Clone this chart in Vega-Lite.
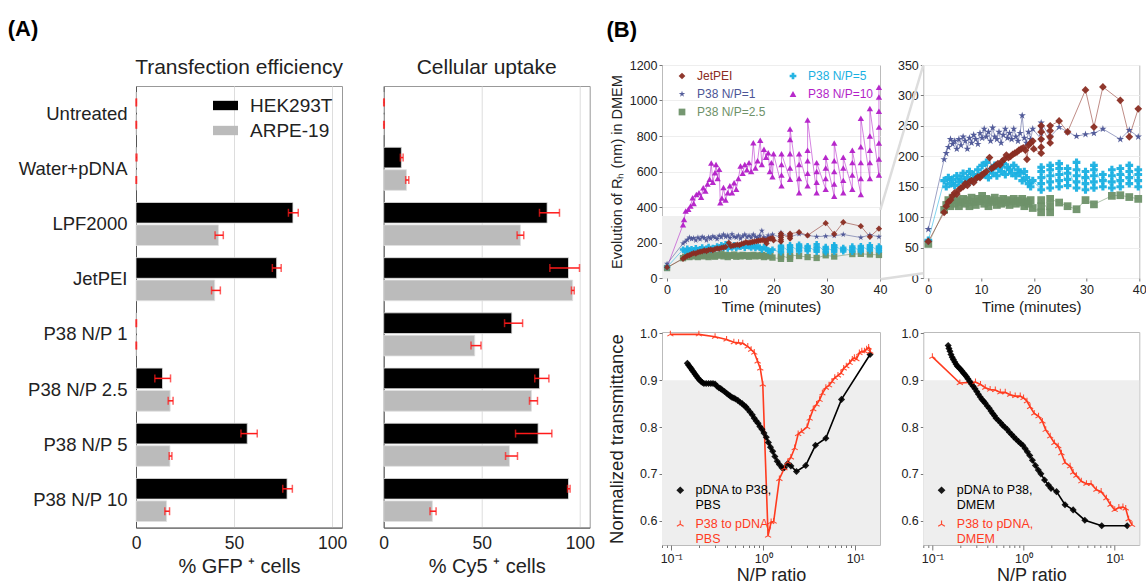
{
"$schema": "https://vega.github.io/schema/vega-lite/v6.json",
"padding": {"left": 7, "top": 17, "right": 0, "bottom": 0},
"background": "white",
"config": {
  "font": "Liberation Sans",
  "view": {"stroke": "#999999"},
  "axis": {"labelColor": "#222222", "titleColor": "#222222", "titleFontWeight": "normal", "domainColor": "#555555", "tickColor": "#777777", "labelOverlap": false, "labelBound": false},
  "axisQuantitative": {"labelOverlap": false},
  "title": {"fontWeight": "normal", "color": "#222222"}
},
"datasets": {
  "tf": [
    {"c":"Untreated","l":"HEK293T","v":0,"lo":0,"hi":0.3},
    {"c":"Untreated","l":"ARPE-19","v":0,"lo":0,"hi":0.3},
    {"c":"Water+pDNA","l":"HEK293T","v":0,"lo":0,"hi":0.5},
    {"c":"Water+pDNA","l":"ARPE-19","v":0,"lo":0,"hi":0.3},
    {"c":"LPF2000","l":"HEK293T","v":80,"lo":77.7,"hi":82.7},
    {"c":"LPF2000","l":"ARPE-19","v":42,"lo":40.3,"hi":44.5},
    {"c":"JetPEI","l":"HEK293T","v":71.7,"lo":69.5,"hi":74},
    {"c":"JetPEI","l":"ARPE-19","v":40.1,"lo":38.5,"hi":43},
    {"c":"P38 N/P 1","l":"HEK293T","v":0,"lo":0,"hi":0.3},
    {"c":"P38 N/P 1","l":"ARPE-19","v":0,"lo":0,"hi":0.3},
    {"c":"P38 N/P 2.5","l":"HEK293T","v":13.5,"lo":9.6,"hi":17.6},
    {"c":"P38 N/P 2.5","l":"ARPE-19","v":17.4,"lo":16.4,"hi":18.9},
    {"c":"P38 N/P 5","l":"HEK293T","v":56.7,"lo":53.5,"hi":61.8},
    {"c":"P38 N/P 5","l":"ARPE-19","v":17.3,"lo":16.9,"hi":18.3},
    {"c":"P38 N/P 10","l":"HEK293T","v":77,"lo":74.8,"hi":79.7},
    {"c":"P38 N/P 10","l":"ARPE-19","v":15.6,"lo":14.7,"hi":17.1}
  ],
  "cu": [
    {"c":"Untreated","l":"HEK293T","v":0,"lo":0,"hi":0.3},
    {"c":"Untreated","l":"ARPE-19","v":0,"lo":0,"hi":0.3},
    {"c":"Water+pDNA","l":"HEK293T","v":9,"lo":8.5,"hi":9.9},
    {"c":"Water+pDNA","l":"ARPE-19","v":11.6,"lo":11.2,"hi":12.8},
    {"c":"LPF2000","l":"HEK293T","v":83.3,"lo":79.4,"hi":89.6},
    {"c":"LPF2000","l":"ARPE-19","v":69.7,"lo":68,"hi":71.4},
    {"c":"JetPEI","l":"HEK293T","v":94.2,"lo":84.7,"hi":99.8},
    {"c":"JetPEI","l":"ARPE-19","v":96.3,"lo":95.7,"hi":97.1},
    {"c":"P38 N/P 1","l":"HEK293T","v":65.3,"lo":61.6,"hi":70.8},
    {"c":"P38 N/P 1","l":"ARPE-19","v":46.4,"lo":44.5,"hi":49.6},
    {"c":"P38 N/P 2.5","l":"HEK293T","v":79.4,"lo":77,"hi":84.2},
    {"c":"P38 N/P 2.5","l":"ARPE-19","v":75.3,"lo":74.3,"hi":78.4},
    {"c":"P38 N/P 5","l":"HEK293T","v":78.7,"lo":67.2,"hi":85.7},
    {"c":"P38 N/P 5","l":"ARPE-19","v":64.1,"lo":62.1,"hi":68.2},
    {"c":"P38 N/P 10","l":"HEK293T","v":94.2,"lo":93.7,"hi":95},
    {"c":"P38 N/P 10","l":"ARPE-19","v":24.8,"lo":23.6,"hi":26.7}
  ],
  "ts": [
    {"s":"P38 N/P=10",
     "t":[0,3,3.2,3.5,4,4.4,4.8,5,5.5,6,6.4,6.8,7.2,7.6,8,8.3,8.6,9,9.2,9.5,9.8,10,10.3,10.6,11,11.4,11.8,12.2,12.6,13,13.4,13.8,14.2,14.6,15,15.4,15.8,16.2,16.6,17,17.5,17.8,18.2,18.6,19,19.3,19.6,19.8,20,21.5,21.5,21.5,21.5,23.1,23.1,23.1,23.1,23.1,24.8,24.8,24.8,24.8,26.4,26.4,26.4,26.4,26.4,28.1,28.1,28.1,28.1,29.8,29.8,29.8,29.8,31.4,31.4,31.4,31.4,31.4,33.1,33.1,33.1,33.1,34.8,34.8,34.8,34.8,36.4,36.4,36.4,36.4,36.4,38.1,38.1,38.1,38.1,38.1,39.8,39.8,39.8,39.8,39.8,39.8,39.8],
     "r":[60,300,330,377,387,405,452,420,470,480,455,508,490,530,556,648,540,593,640,560,612,424,450,510,440,480,520,480,537,500,560,631,590,640,610,650,600,762,620,660,776,640,725,680,706,600,650,570,700,520,580,640,700,556,620,700,780,840,480,560,640,700,520,590,660,720,890,480,540,600,650,500,560,620,680,460,530,600,660,760,480,550,620,680,500,580,650,720,470,560,650,740,900,560,650,720,800,955,580,670,760,850,940,1020,1075]},
    {"s":"P38 N/P=2.5",
     "t":[0,3,3.4,3.8,4.2,4.6,5,5.4,5.8,6.2,6.6,7,7.4,7.8,8.2,8.6,9,9.4,9.8,10.2,10.6,11,11.4,11.8,12.2,12.6,13,13.4,13.8,14.2,14.6,15,15.4,15.8,16.2,16.6,17,17.4,17.8,18.2,18.6,19,19.4,19.8,21.4,21.4,21.4,23.1,23.1,23.1,24.8,26.4,28.1,29.8,31.4,34.8,36.4,38.1,39.8],
     "r":[56,112,120,128,118,132,122,128,118,125,130,122,128,118,132,125,120,130,126,135,122,130,118,128,125,132,120,127,122,130,124,128,120,126,130,122,127,124,130,118,126,122,128,115,108,118,128,108,118,130,124,118,113,128,121,135,136,133,130]},
    {"s":"P38 N/P=5",
     "t":[0,3,3.4,3.8,4.2,4.6,5,5.4,5.8,6.2,6.6,7,7.4,7.8,8.2,8.6,9,9.4,9.8,10.2,10.6,11,11.4,11.8,12.2,12.6,13,13.4,13.8,14.2,14.6,15,15.4,15.8,16.2,16.6,17,17.4,17.8,18.2,18.6,19,19.4,19.8,21.4,21.4,21.4,21.4,21.4,23.1,23.1,23.1,23.1,23.1,24.8,24.8,24.8,24.8,24.8,26.4,26.4,26.4,26.4,28.1,28.1,28.1,28.1,28.1,29.8,29.8,29.8,29.8,31.4,31.4,31.4,31.4,31.4,33.1,33.1,33.1,34.8,34.8,34.8,34.8,36.4,36.4,36.4,36.4,38.1,38.1,38.1,38.1,39.8,39.8,39.8,39.8],
     "r":[62,160,150,165,155,162,152,168,158,163,172,157,165,175,160,170,165,178,168,185,170,190,165,178,172,185,168,180,175,188,170,182,178,172,185,168,178,172,160,175,165,155,150,160,145,155,165,175,182,148,158,168,178,185,150,160,170,180,188,152,162,172,180,148,158,168,178,190,145,155,165,175,148,158,168,178,185,150,160,170,148,158,168,178,150,160,170,180,155,165,175,185,150,160,170,178]},
    {"s":"P38 N/P=1",
     "t":[0,3,3.4,3.8,4.2,4.6,5,5.4,5.8,6.2,6.6,7,7.4,7.8,8.2,8.6,9,9.4,9.8,10.2,10.6,11,11.4,11.8,12.2,12.6,13,13.4,13.8,14.2,14.6,15,15.4,15.8,16.2,16.6,17,17.4,17.8,18.2,18.6,19,19.4,19.8,21.4,21.4,21.4,21.4,23.1,24.8,26.4,28.1,29.8,31.4,33.1,36.4,38.1,39.8],
     "r":[80,195,205,215,228,220,225,212,228,218,232,225,212,230,222,235,228,220,238,230,245,232,240,225,247,232,228,240,222,235,245,230,238,228,245,232,225,238,267,230,222,240,228,245,228,238,248,255,232,248,240,233,236,238,245,228,243,232]},
    {"s":"JetPEI",
     "t":[0,3,3.4,3.8,4.2,4.6,5,5.4,5.8,6.2,6.6,7,7.4,7.8,8.2,8.6,9,9.4,9.8,10.2,10.6,11,11.6,12,12.4,12.8,13.2,13.6,14,14.4,14.8,15.2,15.6,16,16.4,16.8,17.2,17.6,18,18.4,18.7,19,19.4,19.8,20,21.4,21.4,21.4,21.4,21.4,23.1,23.1,23.1,23.1,24.8,26.4,29.8,31.4,33.1,36.4,38.1,39.8],
     "r":[60,108,118,125,128,135,140,138,145,148,150,155,152,158,160,157,163,166,165,170,172,175,198,180,182,185,188,186,192,195,202,198,200,203,205,207,210,212,214,210,195,218,222,225,212,205,215,228,240,250,222,232,242,250,258,240,309,248,314,292,232,278]}
  ],
  "np1": [
    {"s":"pDNA to P38, PBS",
     "x":[0.150,0.155,0.160,0.165,0.170,0.176,0.182,0.188,0.195,0.202,0.210,0.218,0.227,0.24,0.255,0.27,0.285,0.30,0.315,0.33,0.345,0.36,0.38,0.40,0.42,0.44,0.46,0.48,0.50,0.53,0.56,0.59,0.62,0.65,0.68,0.72,0.76,0.80,0.84,0.88,0.92,0.97,1.02,1.08,1.14,1.20,1.27,1.34,1.42,1.50,1.60,1.70,1.85,2.0,2.3,2.9,3.7,4.8,7.1,14.5],
     "y":[0.936,0.932,0.928,0.925,0.921,0.917,0.913,0.909,0.905,0.901,0.898,0.895,0.893,0.893,0.893,0.893,0.893,0.892,0.887,0.884,0.882,0.879,0.876,0.872,0.869,0.866,0.863,0.862,0.860,0.857,0.853,0.850,0.846,0.843,0.838,0.832,0.826,0.819,0.813,0.808,0.801,0.795,0.787,0.778,0.767,0.757,0.748,0.737,0.727,0.720,0.713,0.713,0.722,0.717,0.705,0.718,0.761,0.776,0.859,0.955]},
    {"s":"P38 to pDNA, PBS",
     "x":[0.098,0.2,0.30,0.40,0.48,0.54,0.60,0.68,0.74,0.80,0.87,0.93,0.99,1.13,1.22,1.30,1.50,1.70,1.85,2.0,2.2,2.4,2.6,3.0,3.2,3.5,3.8,4.1,4.4,4.8,5.2,5.6,6.0,6.5,7.0,7.5,8.0,8.7,9.3,9.8,10.3,11.1,11.8,12.6,13.3,14.0,14.6],
     "y":[0.998,0.998,0.993,0.987,0.981,0.980,0.979,0.972,0.965,0.959,0.940,0.925,0.891,0.568,0.597,0.598,0.689,0.712,0.725,0.735,0.755,0.785,0.790,0.800,0.818,0.838,0.848,0.858,0.872,0.884,0.889,0.897,0.905,0.910,0.915,0.925,0.930,0.937,0.944,0.948,0.945,0.958,0.962,0.962,0.966,0.970,0.961]}
  ],
  "np2": [
    {"s":"pDNA to P38, DMEM",
     "x":[0.149,0.152,0.156,0.160,0.165,0.170,0.176,0.182,0.188,0.195,0.202,0.210,0.218,0.227,0.236,0.245,0.256,0.268,0.28,0.293,0.307,0.32,0.335,0.35,0.365,0.38,0.40,0.42,0.44,0.46,0.48,0.50,0.53,0.56,0.59,0.62,0.66,0.70,0.74,0.78,0.83,0.88,0.93,0.98,1.04,1.10,1.17,1.25,1.35,1.45,1.55,1.7,1.87,2.0,2.3,2.85,3.5,4.7,7.2,13.7],
     "y":[0.974,0.968,0.962,0.955,0.949,0.944,0.939,0.934,0.930,0.927,0.924,0.920,0.916,0.912,0.908,0.903,0.898,0.892,0.887,0.882,0.876,0.870,0.864,0.859,0.855,0.851,0.845,0.840,0.834,0.829,0.824,0.819,0.814,0.809,0.804,0.800,0.795,0.789,0.784,0.779,0.774,0.769,0.765,0.761,0.754,0.747,0.739,0.729,0.718,0.708,0.700,0.687,0.676,0.669,0.662,0.634,0.623,0.601,0.589,0.589]},
    {"s":"P38 to pDNA, DMEM",
     "x":[0.1,0.2,0.297,0.337,0.38,0.43,0.49,0.556,0.63,0.713,0.81,0.92,1.0,1.09,1.18,1.31,1.46,1.61,1.75,1.96,2.18,2.4,2.6,2.85,3.24,3.5,3.8,4.3,4.9,5.5,6.3,7.1,8.1,9.0,10.0,11.1,12.3,13.2,14.2,15.5],
     "y":[0.95,0.894,0.896,0.891,0.884,0.88,0.879,0.874,0.874,0.869,0.866,0.866,0.862,0.855,0.843,0.829,0.823,0.812,0.794,0.78,0.766,0.759,0.744,0.724,0.716,0.703,0.696,0.684,0.679,0.679,0.666,0.662,0.648,0.634,0.623,0.628,0.629,0.626,0.603,0.591]}
  ]
},
"resolve": {"scale": {"color": "independent", "shape": "independent", "stroke": "independent"}},
"spacing": 11,
"hconcat": [
  {
    "title": {"text": "(A)", "anchor": "start", "fontSize": 22, "fontWeight": "bold", "color": "#000000", "dx": -10, "offset": 16},
    "bounds": "flush",
    "spacing": 20,
    "vconcat": [
      {"width": 1, "height": 1, "view": {"stroke": null}, "data": {"values": [{}]}, "mark": {"type": "point", "opacity": 0}, "encoding": {}},
      {
        "bounds": "flush",
        "spacing": 41.7,
        "resolve": {"scale": {"color": "independent"}},
        "hconcat": [
          {
            "width": 206, "height": 441.6,
            "title": {"text": "Transfection efficiency", "fontSize": 21, "offset": 8},
            "data": {"name": "tf"},
            "encoding": {
              "y": {"field": "c", "type": "nominal", "sort": ["Untreated","Water+pDNA","LPF2000","JetPEI","P38 N/P 1","P38 N/P 2.5","P38 N/P 5","P38 N/P 10"], "scale": {"paddingInner": 0.22, "paddingOuter": 0.11}, "axis": {"title": null, "ticks": false, "labelFontSize": 18.5, "labelPadding": 9, "labelLimit": 200}},
              "yOffset": {"field": "l", "type": "nominal", "sort": ["HEK293T","ARPE-19"], "scale": {"paddingInner": 0.08}}
            },
            "layer": [
              {"mark": {"type": "bar", "stroke": "#e0e0e0", "strokeWidth": 0.8},
               "encoding": {
                 "x": {"field": "v", "type": "quantitative", "title": "% GFP ⁺  cells", "scale": {"domain": [0, 105], "nice": false}, "axis": {"values": [0, 50, 100], "grid": true, "gridColor": "#dddddd", "ticks": false, "labelFontSize": 17.5, "labelPadding": 7, "titleFontSize": 20, "titlePadding": 4, "labelFlush": false}},
                 "color": {"field": "l", "type": "nominal", "scale": {"domain": ["HEK293T","ARPE-19"], "range": ["#000000","#bbbbbb"]}, "legend": {"title": null, "orient": "top-right", "offset": 9, "padding": 0, "labelFontSize": 19, "labelColor": "#222222", "symbolType": "M-1.2,-0.45L1.2,-0.45L1.2,0.45L-1.2,0.45Z", "symbolSize": 433, "symbolStrokeWidth": 0, "labelOffset": 14, "rowPadding": 4}}
               }},
              {"mark": {"type": "rule", "color": "#ff1a1a", "strokeWidth": 1.5},
               "encoding": {"x": {"field": "lo", "type": "quantitative", "title": "% GFP ⁺  cells"}, "x2": {"field": "hi"}}},
              {"mark": {"type": "tick", "color": "#ff1a1a", "thickness": 1.5, "size": 8},
               "encoding": {"x": {"field": "lo", "type": "quantitative", "title": "% GFP ⁺  cells"}}},
              {"mark": {"type": "tick", "color": "#ff1a1a", "thickness": 1.5, "size": 8},
               "encoding": {"x": {"field": "hi", "type": "quantitative", "title": "% GFP ⁺  cells"}}}
            ]
          },
          {
            "width": 206, "height": 441.6,
            "title": {"text": "Cellular uptake", "fontSize": 21, "offset": 8},
            "data": {"name": "cu"},
            "encoding": {
              "y": {"field": "c", "type": "nominal", "sort": ["Untreated","Water+pDNA","LPF2000","JetPEI","P38 N/P 1","P38 N/P 2.5","P38 N/P 5","P38 N/P 10"], "scale": {"paddingInner": 0.22, "paddingOuter": 0.11}, "axis": {"title": null, "ticks": false, "labels": false}},
              "yOffset": {"field": "l", "type": "nominal", "sort": ["HEK293T","ARPE-19"], "scale": {"paddingInner": 0.08}}
            },
            "layer": [
              {"mark": {"type": "bar", "stroke": "#e0e0e0", "strokeWidth": 0.8},
               "encoding": {
                 "x": {"field": "v", "type": "quantitative", "title": "% Cy5 ⁺  cells", "scale": {"domain": [0, 105], "nice": false}, "axis": {"values": [0, 50, 100], "grid": true, "gridColor": "#dddddd", "ticks": false, "labelFontSize": 17.5, "labelPadding": 7, "titleFontSize": 20, "titlePadding": 4, "labelFlush": false}},
                 "color": {"field": "l", "type": "nominal", "scale": {"domain": ["HEK293T","ARPE-19"], "range": ["#000000","#bbbbbb"]}, "legend": null}
               }},
              {"mark": {"type": "rule", "color": "#ff1a1a", "strokeWidth": 1.5},
               "encoding": {"x": {"field": "lo", "type": "quantitative", "title": "% Cy5 ⁺  cells"}, "x2": {"field": "hi"}}},
              {"mark": {"type": "tick", "color": "#ff1a1a", "thickness": 1.5, "size": 8},
               "encoding": {"x": {"field": "lo", "type": "quantitative", "title": "% Cy5 ⁺  cells"}}},
              {"mark": {"type": "tick", "color": "#ff1a1a", "thickness": 1.5, "size": 8},
               "encoding": {"x": {"field": "hi", "type": "quantitative", "title": "% Cy5 ⁺  cells"}}}
            ]
          }
        ]
      }
    ]
  },
  {
    "title": {"text": "(B)", "anchor": "start", "fontSize": 22, "fontWeight": "bold", "color": "#000000", "offset": 17},
    "bounds": "flush",
    "columns": 2,
    "spacing": {"row": 54, "column": 43.3},
    "resolve": {"scale": {"color": "independent", "shape": "independent", "stroke": "independent"}},
    "concat": [
      {
        "width": 218, "height": 213,
        "view": {"stroke": "#bbbbbb"},
        "layer": [
          {"data": {"values": [{}]},
           "mark": {"type": "rect", "color": "#efefef"},
           "encoding": {
             "x": {"datum": -0.95, "type": "quantitative", "title": "Time (minutes)", "scale": {"domain": [-0.95, 40], "nice": false, "zero": false}, "axis": {"values": [0, 10, 20, 30, 40], "labelOverlap": false, "grid": false, "domain": false, "tickSize": 3, "labelFontSize": 12.5, "labelPadding": 2, "labelFlush": false, "titleFontSize": 15, "titlePadding": 4}},
             "x2": {"datum": 40},
             "y": {"datum": 0, "type": "quantitative", "title": "Evolution of Rₕ (nm) in DMEM", "scale": {"domain": [0, 1200], "nice": false}, "axis": {"values": [0, 200, 400, 600, 800, 1000, 1200], "labelOverlap": false, "format": "d", "grid": true, "gridColor": "#eeeeee", "domain": false, "tickSize": 3, "labelFontSize": 12.5, "labelPadding": 2, "titleFontSize": 14.5, "titlePadding": 6, "minExtent": 32, "maxExtent": 32}},
             "y2": {"datum": 350}
           }},
          {"data": {"name": "ts"}, "transform": [{"flatten": ["t", "r"]}],
           "mark": {"type": "line", "strokeWidth": 1, "opacity": 0.55},
           "encoding": {
             "x": {"field": "t", "type": "quantitative", "title": "Time (minutes)", "axis": {"values": [0, 10, 20, 30, 40], "labelOverlap": false, "grid": false, "domain": false, "tickSize": 3, "labelFontSize": 12.5, "labelPadding": 2, "labelFlush": false, "titleFontSize": 15, "titlePadding": 4}},
             "y": {"field": "r", "type": "quantitative", "title": "Evolution of Rₕ (nm) in DMEM", "axis": {"values": [0, 200, 400, 600, 800, 1000, 1200], "labelOverlap": false, "format": "d", "grid": true, "gridColor": "#eeeeee", "domain": false, "tickSize": 3, "labelFontSize": 12.5, "labelPadding": 2, "titleFontSize": 14.5, "titlePadding": 6, "minExtent": 32, "maxExtent": 32}},
             "stroke": {"field": "s", "type": "nominal", "scale": {"domain": ["P38 N/P=10","P38 N/P=5","P38 N/P=2.5","P38 N/P=1","JetPEI"], "range": ["#b31fc8","#1ab0e2","#6e9169","#4c5596","#8a2d22"]}, "legend": null}
           }},
          {"data": {"name": "ts"}, "transform": [{"flatten": ["t", "r"]}],
           "mark": {"type": "point", "filled": true, "opacity": 0.95, "size": 40},
           "encoding": {
             "x": {"field": "t", "type": "quantitative", "title": "Time (minutes)", "axis": {"values": [0, 10, 20, 30, 40], "labelOverlap": false, "grid": false, "domain": false, "tickSize": 3, "labelFontSize": 12.5, "labelPadding": 2, "labelFlush": false, "titleFontSize": 15, "titlePadding": 4}},
             "y": {"field": "r", "type": "quantitative", "title": "Evolution of Rₕ (nm) in DMEM", "axis": {"values": [0, 200, 400, 600, 800, 1000, 1200], "labelOverlap": false, "format": "d", "grid": true, "gridColor": "#eeeeee", "domain": false, "tickSize": 3, "labelFontSize": 12.5, "labelPadding": 2, "titleFontSize": 14.5, "titlePadding": 6, "minExtent": 32, "maxExtent": 32}},
             "color": {"field": "s", "type": "nominal", "scale": {"domain": ["JetPEI","P38 N/P=1","P38 N/P=2.5","P38 N/P=5","P38 N/P=10"], "range": ["#8a2d22","#4c5596","#6e9169","#1ab0e2","#b31fc8"]},
               "legend": {"title": null, "orient": "none", "legendX": 14, "legendY": 5, "columns": 2, "columnPadding": 21, "rowPadding": 6, "padding": 0, "labelFontSize": 12, "symbolSize": 45, "labelOffset": 9,
                 "labelColor": {"expr": "datum.value == 'JetPEI' ? '#8a2d22' : datum.value == 'P38 N/P=5' ? '#1ab0e2' : datum.value == 'P38 N/P=1' ? '#4c5596' : datum.value == 'P38 N/P=10' ? '#b31fc8' : '#6e9169'"}}},
             "shape": {"field": "s", "type": "nominal", "scale": {"domain": ["JetPEI","P38 N/P=1","P38 N/P=2.5","P38 N/P=5","P38 N/P=10"], "range": ["diamond","M0,-1L0.2245,-0.309L0.9511,-0.309L0.3633,0.118L0.5878,0.809L0,0.382L-0.5878,0.809L-0.3633,0.118L-0.9511,-0.309L-0.2245,-0.309Z","square","cross","triangle-up"]},
               "legend": {"title": null, "orient": "none", "legendX": 14, "legendY": 5, "columns": 2, "columnPadding": 21, "rowPadding": 6, "padding": 0, "labelFontSize": 12, "symbolSize": 45, "labelOffset": 9,
                 "labelColor": {"expr": "datum.value == 'JetPEI' ? '#8a2d22' : datum.value == 'P38 N/P=5' ? '#1ab0e2' : datum.value == 'P38 N/P=1' ? '#4c5596' : datum.value == 'P38 N/P=10' ? '#b31fc8' : '#6e9169'"}}}
           }}
        ]
      },
      {
        "width": 216, "height": 213,
        "view": {"stroke": "#bbbbbb"},
        "layer": [
          {"data": {"values": [{"k":"a","cx":-9.1,"cy":112},{"k":"a","cx":-0.95,"cy":350},{"k":"b","cx":-9.1,"cy":-2},{"k":"b","cx":-0.95,"cy":7.7}]},
           "mark": {"type": "line", "clip": false, "color": "#dddddd", "strokeWidth": 2.5},
           "encoding": {
             "x": {"field": "cx", "type": "quantitative", "title": "Time (minutes)", "scale": {"domain": [-0.95, 40], "nice": false, "zero": false}, "axis": {"values": [0, 10, 20, 30, 40], "labelOverlap": false, "grid": false, "domain": false, "tickSize": 3, "labelFontSize": 12.5, "labelPadding": 2, "labelFlush": false, "titleFontSize": 15, "titlePadding": 4}},
             "y": {"field": "cy", "type": "quantitative", "title": null, "scale": {"domain": [0, 350], "nice": false}, "axis": {"values": [0, 50, 100, 150, 200, 250, 300, 350], "labelOverlap": false, "grid": true, "gridColor": "#eeeeee", "domain": false, "tickSize": 3, "labelFontSize": 12.5, "labelPadding": 2, "title": null}},
             "detail": {"field": "k"}
           }},
          {"data": {"name": "ts"}, "transform": [{"flatten": ["t", "r"]}, {"filter": "datum.s != 'P38 N/P=10'"}],
           "mark": {"type": "line", "strokeWidth": 1, "opacity": 0.55},
           "encoding": {
             "x": {"field": "t", "type": "quantitative", "title": "Time (minutes)", "axis": {"values": [0, 10, 20, 30, 40], "labelOverlap": false, "grid": false, "domain": false, "tickSize": 3, "labelFontSize": 12.5, "labelPadding": 2, "labelFlush": false, "titleFontSize": 15, "titlePadding": 4}},
             "y": {"field": "r", "type": "quantitative", "title": null, "axis": {"values": [0, 50, 100, 150, 200, 250, 300, 350], "labelOverlap": false, "grid": true, "gridColor": "#eeeeee", "domain": false, "tickSize": 3, "labelFontSize": 12.5, "labelPadding": 2, "title": null}},
             "stroke": {"field": "s", "type": "nominal", "scale": {"domain": ["P38 N/P=10","P38 N/P=5","P38 N/P=2.5","P38 N/P=1","JetPEI"], "range": ["#b31fc8","#1ab0e2","#6e9169","#4c5596","#8a2d22"]}, "legend": null}
           }},
          {"data": {"name": "ts"}, "transform": [{"flatten": ["t", "r"]}, {"filter": "datum.s != 'P38 N/P=10'"}],
           "mark": {"type": "point", "filled": true, "opacity": 0.95, "size": 60},
           "encoding": {
             "x": {"field": "t", "type": "quantitative", "title": "Time (minutes)", "axis": {"values": [0, 10, 20, 30, 40], "labelOverlap": false, "grid": false, "domain": false, "tickSize": 3, "labelFontSize": 12.5, "labelPadding": 2, "labelFlush": false, "titleFontSize": 15, "titlePadding": 4}},
             "y": {"field": "r", "type": "quantitative", "title": null, "axis": {"values": [0, 50, 100, 150, 200, 250, 300, 350], "labelOverlap": false, "grid": true, "gridColor": "#eeeeee", "domain": false, "tickSize": 3, "labelFontSize": 12.5, "labelPadding": 2, "title": null}},
             "color": {"field": "s", "type": "nominal", "scale": {"domain": ["JetPEI","P38 N/P=1","P38 N/P=2.5","P38 N/P=5","P38 N/P=10"], "range": ["#8a2d22","#4c5596","#6e9169","#1ab0e2","#b31fc8"]}, "legend": null},
             "shape": {"field": "s", "type": "nominal", "scale": {"domain": ["JetPEI","P38 N/P=1","P38 N/P=2.5","P38 N/P=5","P38 N/P=10"], "range": ["diamond","M0,-1L0.2245,-0.309L0.9511,-0.309L0.3633,0.118L0.5878,0.809L0,0.382L-0.5878,0.809L-0.3633,0.118L-0.9511,-0.309L-0.2245,-0.309Z","square","cross","triangle-up"]}, "legend": null}
           }}
        ]
      },
      {
        "width": 218, "height": 213,
        "view": {"stroke": "#bbbbbb"},
        "layer": [
          {"data": {"values": [{}]},
           "mark": {"type": "rect", "color": "#eeeeee"},
           "encoding": {
             "x": {"datum": 0.0795, "type": "quantitative", "title": "N/P ratio", "scale": {"type": "log", "domain": [0.0795, 18.6], "nice": false}, "axis": {"values": [0.08,0.09,0.1,0.2,0.3,0.4,0.5,0.6,0.7,0.8,0.9,1,2,3,4,5,6,7,8,9,10], "labelExpr": "datum.value == 0.1 ? '10⁻¹' : datum.value == 1 ? '10⁰' : datum.value == 10 ? '10¹' : ''", "labelOverlap": false, "labelFlush": false, "tickSize": {"condition": {"test": "datum.value == 0.1 || datum.value == 1 || datum.value == 10", "value": 5}, "value": 2.5}, "grid": false, "domain": false, "labelFontSize": 12.5, "labelPadding": 2, "titleFontSize": 18, "titlePadding": 2}},
             "x2": {"datum": 18.6},
             "y": {"datum": 0.548, "type": "quantitative", "title": "Normalized transmittance", "scale": {"domain": [0.548, 1.003], "nice": false, "zero": false}, "axis": {"values": [0.6, 0.7, 0.8, 0.9, 1.0], "labelOverlap": false, "format": ".1f", "grid": false, "domain": false, "tickSize": 3, "labelFontSize": 12.5, "labelPadding": 2, "titleFontSize": 18.5, "titlePadding": 4, "minExtent": 32, "maxExtent": 32}},
             "y2": {"datum": 0.9}
           }},
          {"data": {"name": "np1"}, "transform": [{"flatten": ["x", "y"]}],
           "mark": {"type": "line", "strokeWidth": 1.6},
           "encoding": {
             "x": {"field": "x", "type": "quantitative", "title": "N/P ratio"},
             "y": {"field": "y", "type": "quantitative", "title": "Normalized transmittance"},
             "stroke": {"field": "s", "type": "nominal", "scale": {"domain": ["P38 to pDNA, PBS", "pDNA to P38, PBS"], "range": ["#ff3b1f", "#000000"]}, "legend": null}
           }},
          {"data": {"name": "np1"}, "transform": [{"flatten": ["x", "y"]}],
           "mark": {"type": "point", "filled": true, "opacity": 0.9, "size": 50},
           "encoding": {
             "x": {"field": "x", "type": "quantitative", "title": "N/P ratio"},
             "y": {"field": "y", "type": "quantitative", "title": "Normalized transmittance"},
             "color": {"field": "s", "type": "nominal", "scale": {"domain": ["pDNA to P38, PBS", "P38 to pDNA, PBS"], "range": ["#000000", "#ff3b1f"]},
               "legend": {"title": null, "orient": "none", "legendX": 12, "legendY": 152, "padding": 0, "rowPadding": 6, "labelFontSize": 12.5, "symbolSize": 60, "labelOffset": 9, "labelExpr": "[substring(datum.label, 0, indexof(datum.label, ',') + 1), ' ' + substring(datum.label, indexof(datum.label, ',') + 2)]",
                 "labelColor": {"expr": "datum.value == 'P38 to pDNA, PBS' ? '#ff3b1f' : '#000000'"}}},
             "shape": {"field": "s", "type": "nominal", "scale": {"domain": ["pDNA to P38, PBS", "P38 to pDNA, PBS"], "range": ["diamond", "M-0.15,0.1L-0.15,-1L0.15,-1L0.15,0.1ZM-0.012,-0.18L0.941,0.37L0.791,0.63L-0.162,0.08ZM0.162,0.08L-0.791,0.63L-0.941,0.37L0.012,-0.18Z"]},
               "legend": {"title": null, "orient": "none", "legendX": 12, "legendY": 152, "padding": 0, "rowPadding": 6, "labelFontSize": 12.5, "symbolSize": 60, "labelOffset": 9, "labelExpr": "[substring(datum.label, 0, indexof(datum.label, ',') + 1), ' ' + substring(datum.label, indexof(datum.label, ',') + 2)]",
                 "labelColor": {"expr": "datum.value == 'P38 to pDNA, PBS' ? '#ff3b1f' : '#000000'"}}}
           }}
        ]
      },
      {
        "width": 216, "height": 213,
        "view": {"stroke": "#bbbbbb"},
        "layer": [
          {"data": {"values": [{}]},
           "mark": {"type": "rect", "color": "#eeeeee"},
           "encoding": {
             "x": {"datum": 0.0795, "type": "quantitative", "title": "N/P ratio", "scale": {"type": "log", "domain": [0.0795, 18.6], "nice": false}, "axis": {"values": [0.08,0.09,0.1,0.2,0.3,0.4,0.5,0.6,0.7,0.8,0.9,1,2,3,4,5,6,7,8,9,10], "labelExpr": "datum.value == 0.1 ? '10⁻¹' : datum.value == 1 ? '10⁰' : datum.value == 10 ? '10¹' : ''", "labelOverlap": false, "labelFlush": false, "tickSize": {"condition": {"test": "datum.value == 0.1 || datum.value == 1 || datum.value == 10", "value": 5}, "value": 2.5}, "grid": false, "domain": false, "labelFontSize": 12.5, "labelPadding": 2, "titleFontSize": 18, "titlePadding": 2}},
             "x2": {"datum": 18.6},
             "y": {"datum": 0.548, "type": "quantitative", "title": null, "scale": {"domain": [0.548, 1.003], "nice": false, "zero": false}, "axis": {"values": [0.6, 0.7, 0.8, 0.9, 1.0], "labelOverlap": false, "format": ".1f", "grid": false, "domain": false, "tickSize": 3, "labelFontSize": 12.5, "labelPadding": 2, "title": null}},
             "y2": {"datum": 0.9}
           }},
          {"data": {"name": "np2"}, "transform": [{"flatten": ["x", "y"]}],
           "mark": {"type": "line", "strokeWidth": 1.6},
           "encoding": {
             "x": {"field": "x", "type": "quantitative", "title": "N/P ratio"},
             "y": {"field": "y", "type": "quantitative", "title": null},
             "stroke": {"field": "s", "type": "nominal", "scale": {"domain": ["P38 to pDNA, DMEM", "pDNA to P38, DMEM"], "range": ["#ff3b1f", "#000000"]}, "legend": null}
           }},
          {"data": {"name": "np2"}, "transform": [{"flatten": ["x", "y"]}],
           "mark": {"type": "point", "filled": true, "opacity": 0.9, "size": 50},
           "encoding": {
             "x": {"field": "x", "type": "quantitative", "title": "N/P ratio"},
             "y": {"field": "y", "type": "quantitative", "title": null},
             "color": {"field": "s", "type": "nominal", "scale": {"domain": ["pDNA to P38, DMEM", "P38 to pDNA, DMEM"], "range": ["#000000", "#ff3b1f"]},
               "legend": {"title": null, "orient": "none", "legendX": 12, "legendY": 152, "padding": 0, "rowPadding": 6, "labelFontSize": 12.5, "symbolSize": 60, "labelOffset": 9, "labelExpr": "[substring(datum.label, 0, indexof(datum.label, ',') + 1), ' ' + substring(datum.label, indexof(datum.label, ',') + 2)]",
                 "labelColor": {"expr": "datum.value == 'P38 to pDNA, DMEM' ? '#ff3b1f' : '#000000'"}}},
             "shape": {"field": "s", "type": "nominal", "scale": {"domain": ["pDNA to P38, DMEM", "P38 to pDNA, DMEM"], "range": ["diamond", "M-0.15,0.1L-0.15,-1L0.15,-1L0.15,0.1ZM-0.012,-0.18L0.941,0.37L0.791,0.63L-0.162,0.08ZM0.162,0.08L-0.791,0.63L-0.941,0.37L0.012,-0.18Z"]},
               "legend": {"title": null, "orient": "none", "legendX": 12, "legendY": 152, "padding": 0, "rowPadding": 6, "labelFontSize": 12.5, "symbolSize": 60, "labelOffset": 9, "labelExpr": "[substring(datum.label, 0, indexof(datum.label, ',') + 1), ' ' + substring(datum.label, indexof(datum.label, ',') + 2)]",
                 "labelColor": {"expr": "datum.value == 'P38 to pDNA, DMEM' ? '#ff3b1f' : '#000000'"}}}
           }}
        ]
      }
    ]
  }
]
}
